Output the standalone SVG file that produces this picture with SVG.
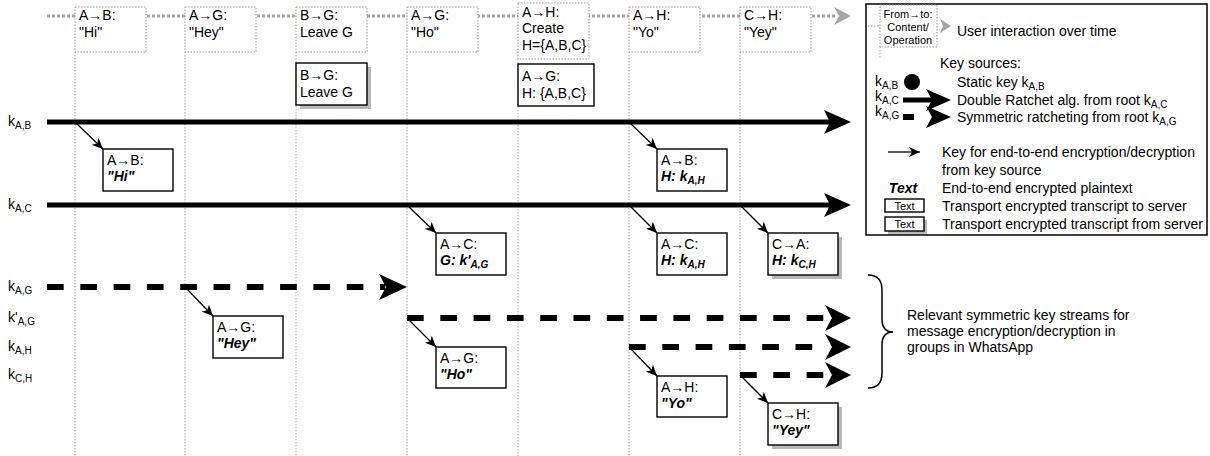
<svg xmlns="http://www.w3.org/2000/svg" width="1210" height="456" viewBox="0 0 1210 456">
<defs>
<marker id="thin" markerWidth="12" markerHeight="10" refX="11" refY="5" orient="auto" markerUnits="userSpaceOnUse">
<path d="M0,0 L11,5 L0,10 L3,5 Z" fill="#000"/>
</marker>
</defs>
<style>
text{font-family:"Liberation Sans",Arial,"DejaVu Sans",sans-serif;font-size:14px;fill:#000}
.s{font-size:10px}
.bi{font-weight:bold;font-style:italic}
.sm{font-size:11px}
.ev{fill:#fff;stroke:#999;stroke-width:1;stroke-dasharray:1.5 1.5}
.vl{stroke:#aaa;stroke-width:1;stroke-dasharray:1.5 1.5;fill:none}
.tl{stroke:#a6a6a6;stroke-width:3;stroke-dasharray:3 2;fill:none}
.bx{fill:#fff;stroke:#000;stroke-width:1.4}
.sh{fill:#b8b8b8}
.thick{stroke:#000;stroke-width:5;fill:none}
.dash{stroke:#000;stroke-width:6;stroke-dasharray:16.7 16.6;fill:none}
.ar{stroke:#000;stroke-width:1.3;fill:none;marker-end:url(#thin)}
</style>

<g id="timeline">
<line class="tl" x1="47" y1="16" x2="836" y2="16"/>
<path d="M851,16 L834,7 L839,16 L834,25 Z" fill="#a6a6a6"/>
<line class="vl" x1="75" y1="52" x2="75" y2="456"/>
<line class="vl" x1="185" y1="52" x2="185" y2="456"/>
<line class="vl" x1="296" y1="52" x2="296" y2="456"/>
<line class="vl" x1="407" y1="52" x2="407" y2="456"/>
<line class="vl" x1="518" y1="59" x2="518" y2="456"/>
<line class="vl" x1="629" y1="52" x2="629" y2="456"/>
<line class="vl" x1="740" y1="52" x2="740" y2="456"/>
</g>

<g id="ev1"><rect class="ev" x="75" y="7" width="71" height="45"/><text x="79" y="20">A→B:</text><text x="79" y="37">"Hi"</text></g>
<g id="ev2"><rect class="ev" x="185" y="7" width="71" height="45"/><text x="189" y="20">A→G:</text><text x="189" y="37">"Hey"</text></g>
<g id="ev3"><rect class="ev" x="296" y="7" width="71" height="45"/><text x="300" y="20">B→G:</text><text x="300" y="37">Leave G</text></g>
<g id="ev4"><rect class="ev" x="407" y="7" width="71" height="45"/><text x="411" y="20">A→G:</text><text x="411" y="37">"Ho"</text></g>
<g id="ev5"><rect class="ev" x="518" y="3" width="71" height="56"/><text x="522" y="17">A→H:</text><text x="522" y="33">Create</text><text x="522" y="50">H={A,B,C}</text></g>
<g id="ev6"><rect class="ev" x="629" y="7" width="71" height="45"/><text x="633" y="20">A→H:</text><text x="633" y="37">"Yo"</text></g>
<g id="ev7"><rect class="ev" x="740" y="7" width="71" height="45"/><text x="744" y="20">C→H:</text><text x="744" y="37">"Yey"</text></g>

<g id="labels">
<text x="8" y="126">k<tspan class="s" dy="3">A,B</tspan></text>
<text x="8" y="209">k<tspan class="s" dy="3">A,C</tspan></text>
<text x="8" y="291">k<tspan class="s" dy="3">A,G</tspan></text>
<text x="8" y="322">k'<tspan class="s" dy="3">A,G</tspan></text>
<text x="8" y="351">k<tspan class="s" dy="3">A,H</tspan></text>
<text x="8" y="379">k<tspan class="s" dy="3">C,H</tspan></text>
</g>

<g id="connectors">
<line class="thick" x1="47" y1="122" x2="830" y2="122"/>
<path d="M851,122 L824,110 L830,122 L824,134 Z"/>
<line class="thick" x1="47" y1="205" x2="830" y2="205"/>
<path d="M851,205 L824,193 L830,205 L824,217 Z"/>
<line class="dash" x1="47" y1="287" x2="385" y2="287"/>
<path d="M407,287 L379,274 L386,287 L379,300 Z"/>
<line class="dash" x1="407" y1="318" x2="830" y2="318"/>
<path d="M851,318 L825,305 L832,318 L825,331 Z"/>
<line class="dash" x1="629" y1="347" x2="828" y2="347"/>
<path d="M851,347 L825,334 L832,347 L825,360 Z"/>
<line class="dash" x1="740" y1="375" x2="828" y2="375"/>
<path d="M851,375 L825,362 L832,375 L825,388 Z"/>
<line class="ar" x1="75" y1="122" x2="103" y2="149"/>
<line class="ar" x1="185" y1="287" x2="213" y2="316"/>
<line class="ar" x1="407" y1="205" x2="436" y2="233"/>
<line class="ar" x1="407" y1="318" x2="436" y2="347"/>
<line class="ar" x1="629" y1="122" x2="657" y2="149"/>
<line class="ar" x1="629" y1="205" x2="657" y2="233"/>
<line class="ar" x1="740" y1="205" x2="768" y2="233"/>
<line class="ar" x1="629" y1="347" x2="657" y2="376"/>
<line class="ar" x1="740" y1="375" x2="768" y2="403"/>
</g>

<g id="m_leave"><rect class="sh" x="300" y="67" width="71" height="42"/><rect class="bx" x="296" y="63" width="71" height="42"/><text x="300" y="80">B→G:</text><text x="300" y="97">Leave G</text></g>
<g id="m_create"><rect class="bx" x="518" y="64" width="76" height="42"/><text x="522" y="81">A→G:</text><text x="522" y="98">H: {A,B,C}</text></g>
<g id="m_hi"><rect class="bx" x="103" y="149" width="70" height="42"/><text x="107" y="165">A→B:</text><text class="bi" x="107" y="181">"Hi"</text></g>
<g id="m_hey"><rect class="bx" x="213" y="316" width="70" height="42"/><text x="217" y="332">A→G:</text><text class="bi" x="217" y="348">"Hey"</text></g>
<g id="m_kag"><rect class="bx" x="436" y="233" width="70" height="42"/><text x="440" y="249">A→C:</text><text class="bi" x="440" y="265">G: k'<tspan class="s" dy="3">A,G</tspan></text></g>
<g id="m_abh"><rect class="bx" x="657" y="149" width="70" height="42"/><text x="661" y="165">A→B:</text><text class="bi" x="661" y="181">H: k<tspan class="s" dy="3">A,H</tspan></text></g>
<g id="m_ach"><rect class="bx" x="657" y="233" width="70" height="42"/><text x="661" y="249">A→C:</text><text class="bi" x="661" y="265">H: k<tspan class="s" dy="3">A,H</tspan></text></g>
<g id="m_cah"><rect class="sh" x="772" y="237" width="70" height="42"/><rect class="bx" x="768" y="233" width="70" height="42"/><text x="772" y="249">C→A:</text><text class="bi" x="772" y="265">H: k<tspan class="s" dy="3">C,H</tspan></text></g>
<g id="m_ho"><rect class="bx" x="436" y="347" width="70" height="41"/><text x="440" y="363">A→G:</text><text class="bi" x="440" y="379">"Ho"</text></g>
<g id="m_yo"><rect class="bx" x="657" y="376" width="70" height="41"/><text x="661" y="392">A→H:</text><text class="bi" x="661" y="408">"Yo"</text></g>
<g id="m_yey"><rect class="sh" x="772" y="407" width="70" height="42"/><rect class="bx" x="768" y="403" width="70" height="42"/><text x="772" y="419">C→H:</text><text class="bi" x="772" y="435">"Yey"</text></g>

<g id="legend">
<rect x="866" y="4" width="341" height="231" fill="#fff" stroke="#000" stroke-width="1.5"/>
<line class="vl" x1="868" y1="26" x2="880" y2="26"/>
<line class="vl" x1="880" y1="47" x2="880" y2="58"/>
<rect class="ev" x="880" y="5" width="57" height="42"/>
<text class="sm" x="908" y="18" text-anchor="middle">From→to:</text>
<text class="sm" x="908" y="31" text-anchor="middle">Content/</text>
<text class="sm" x="908" y="44" text-anchor="middle">Operation</text>
<path d="M951,26 L940,19 L943,26 L940,33 Z" fill="#a6a6a6"/>
<text x="957" y="36">User interaction over time</text>
<text x="940" y="68">Key sources:</text>
<text x="875" y="86">k<tspan class="s" dy="3">A,B</tspan></text>
<circle cx="912" cy="82" r="8"/>
<text x="957" y="87">Static key k<tspan class="s" dy="3">A,B</tspan></text>
<text x="875" y="101">k<tspan class="s" dy="3">A,C</tspan></text>
<line class="thick" x1="903" y1="100" x2="932" y2="100"/>
<path d="M951,100 L926,89 L932,100 L926,111 Z"/>
<text x="957" y="105">Double Ratchet alg. from root k<tspan class="s" dy="3">A,C</tspan></text>
<text x="875" y="116">k<tspan class="s" dy="3">A,G</tspan></text>
<line x1="903" y1="117" x2="914" y2="117" stroke="#000" stroke-width="6"/>
<path d="M951,117 L926,106 L932,117 L926,128 Z"/>
<text x="957" y="122">Symmetric ratcheting from root k<tspan class="s" dy="3">A,G</tspan></text>
<line class="ar" x1="888" y1="152" x2="920" y2="152"/>
<text x="942" y="157">Key for end-to-end encryption/decryption</text>
<text x="942" y="175">from key source</text>
<text class="bi" x="903" y="193" text-anchor="middle">Text</text>
<text x="942" y="193">End-to-end encrypted plaintext</text>
<rect class="bx" x="885" y="199" width="39" height="13"/>
<text class="sm" x="904.5" y="210" text-anchor="middle">Text</text>
<text x="942" y="211">Transport encrypted transcript to server</text>
<rect class="sh" x="888" y="220" width="39" height="14"/>
<rect class="bx" x="885" y="217" width="39" height="14"/>
<text class="sm" x="904.5" y="228" text-anchor="middle">Text</text>
<text x="942" y="229">Transport encrypted transcript from server</text>
</g>

<g id="brace">
<path d="M868,275 Q882,275 882,290 L882,319 Q882,332 893,332 Q882,332 882,345 L882,373 Q882,388 868,388" fill="none" stroke="#000" stroke-width="1.5"/>
<text x="907" y="320">Relevant symmetric key streams for</text>
<text x="907" y="336">message encryption/decryption in</text>
<text x="907" y="352">groups in WhatsApp</text>
</g>
</svg>
